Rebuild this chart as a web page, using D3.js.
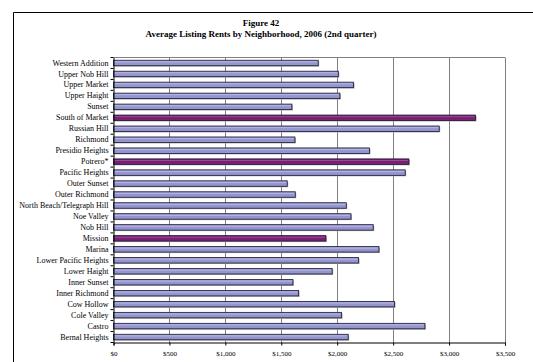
<!DOCTYPE html>
<html><head><meta charset="utf-8">
<script src="https://cdn.jsdelivr.net/npm/d3@7"></script>
<style>body{margin:0;background:#fff}svg{display:block}</style>
</head><body>
<svg id="c" width="533" height="362"></svg>
<script>
const categories = ["Western Addition","Upper Nob Hill","Upper Market","Upper Haight","Sunset","South of Market","Russian Hill","Richmond","Presidio Heights","Potrero*","Pacific Heights","Outer Sunset","Outer Richmond","North Beach/Telegraph Hill","Noe Valley","Nob Hill","Mission","Marina","Lower Pacific Heights","Lower Haight","Inner Sunset","Inner Richmond","Cow Hollow","Cole Valley","Castro","Bernal Heights"];
const rents = [1830,2010,2146,2024,1595,3237,2912,1622,2289,2641,2608,1553,1625,2081,2123,2322,1899,2373,2191,1955,1604,1655,2513,2039,2784,2098];
const highlighted = ["South of Market","Potrero*","Mission"];
const xTicks = [0,500,1000,1500,2000,2500,3000,3500];
const titleLines = ["Figure 42","Average Listing Rents by Neighborhood, 2006 (2nd quarter)"];

const svg = d3.select("#c");
const L = 113.5, R = 505, T = 57.5, B = 342.5;
const x = d3.scaleLinear().domain([0,3500]).range([L,R]);
const y = d3.scaleBand().domain(categories).range([T,B]).paddingInner(0.5).paddingOuter(0.25);

// frame
svg.append("path").attr("d","M13.5,362 V12.5 H540").attr("fill","none").attr("stroke","#000").attr("stroke-width",1);

// title
svg.selectAll("text.title").data(titleLines).join("text")
  .attr("x",261).attr("y",(d,i)=>26+i*11)
  .attr("text-anchor","middle").attr("font-family","Liberation Serif")
  .attr("font-weight","bold").attr("font-size",9).attr("fill","#000").text(d=>d);

// gridlines
svg.append("g").selectAll("line").data(xTicks.slice(1)).join("line")
  .attr("x1",d=>Math.round(x(d))+0.5).attr("x2",d=>Math.round(x(d))+0.5)
  .attr("y1",T).attr("y2",B).attr("stroke","#808080").attr("stroke-width",1);
svg.append("line").attr("x1",L).attr("x2",R).attr("y1",T).attr("y2",T).attr("stroke","#808080");

// bars shadow
svg.append("g").selectAll("rect").data(categories).join("rect")
  .attr("x",L+1).attr("y",d=>y(d)+1)
  .attr("width",(d,i)=>x(rents[i])-L).attr("height",y.bandwidth())
  .attr("fill","#b0b0b0");
// bars
svg.append("g").selectAll("rect").data(categories).join("rect")
  .attr("x",L).attr("y",d=>y(d))
  .attr("width",(d,i)=>x(rents[i])-L).attr("height",y.bandwidth())
  .attr("fill",d=>highlighted.includes(d)?"#7a1f72":"#9494cf")
  .attr("stroke","#1a1a30").attr("stroke-width",0.8);
// highlight stripe
svg.append("g").selectAll("line").data(categories).join("line")
  .attr("x1",L+1).attr("x2",(d,i)=>x(rents[i])-1)
  .attr("y1",d=>y(d)+1.6).attr("y2",d=>y(d)+1.6)
  .attr("stroke",d=>highlighted.includes(d)?"#9a4a92":"#b8b8e6").attr("stroke-width",1);

// y axis
const ya = svg.append("g").attr("transform",`translate(${L},0)`)
  .call(d3.axisLeft(y).tickSize(0).tickPadding(5));
ya.select(".domain").attr("stroke","#000");
ya.selectAll("text").attr("font-family","Liberation Serif").attr("font-size",8).attr("fill","#000");
// y ticks at band boundaries
const step = (B-T)/categories.length;
svg.append("g").selectAll("line").data(d3.range(categories.length+1)).join("line")
  .attr("x1",L-3).attr("x2",L).attr("y1",i=>T+i*step).attr("y2",i=>T+i*step).attr("stroke","#000");

// x axis
const xa = svg.append("g").attr("transform",`translate(0,${B})`)
  .call(d3.axisBottom(x).tickValues(xTicks).tickSize(3).tickPadding(6).tickFormat(d=>d3.format("$,")(d)));
xa.select(".domain").attr("stroke","#000");
xa.selectAll("line").attr("stroke","#000");
xa.selectAll("text").attr("font-family","Liberation Serif").attr("font-size",7).attr("fill","#000");
</script>
</body></html>
